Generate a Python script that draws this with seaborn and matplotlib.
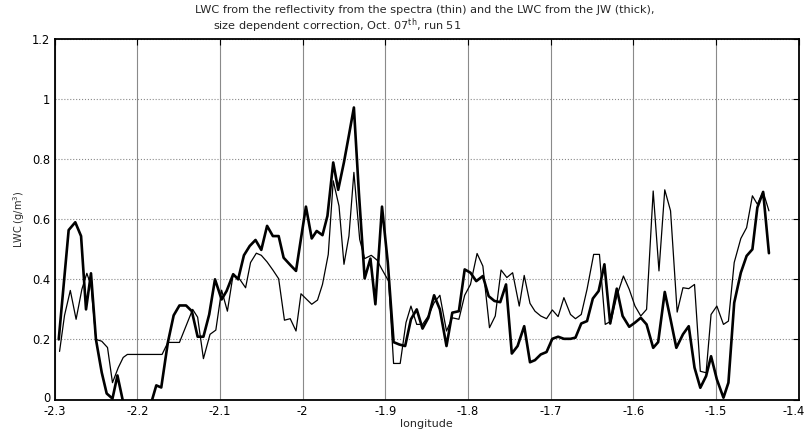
import numpy as np
import pandas as pd
import seaborn as sns
import matplotlib.pyplot as plt
import matplotlib.transforms as mtransforms

# LWC from the JW probe (thick line)
jw_lon = [-2.295, -2.283, -2.275, -2.268, -2.262, -2.256, -2.250, -2.243, -2.237, -2.230,
          -2.224, -2.217, -2.211, -2.204, -2.196, -2.190, -2.183, -2.177, -2.171, -2.163,
          -2.156, -2.149, -2.141, -2.134, -2.127, -2.120, -2.113, -2.106, -2.098, -2.092,
          -2.084, -2.078, -2.071, -2.064, -2.057, -2.050, -2.043, -2.036, -2.029, -2.023,
          -2.015, -2.008, -2.002, -1.996, -1.989, -1.983, -1.976, -1.970, -1.963, -1.957,
          -1.950, -1.944, -1.938, -1.932, -1.925, -1.918, -1.912, -1.904, -1.897, -1.890,
          -1.883, -1.876, -1.869, -1.862, -1.855, -1.848, -1.841, -1.834, -1.826, -1.819,
          -1.811, -1.804, -1.797, -1.790, -1.782, -1.775, -1.768, -1.761, -1.754, -1.747,
          -1.740, -1.732, -1.725, -1.719, -1.712, -1.705, -1.698, -1.691, -1.684, -1.676,
          -1.670, -1.663, -1.656, -1.649, -1.642, -1.635, -1.628, -1.620, -1.613, -1.605,
          -1.598, -1.591, -1.584, -1.576, -1.570, -1.562, -1.555, -1.548, -1.540, -1.533,
          -1.526, -1.519, -1.512, -1.506, -1.499, -1.491, -1.485, -1.478, -1.470, -1.463,
          -1.456, -1.450, -1.443, -1.436]
jw_lwc = [0.2, 0.564, 0.59, 0.544, 0.30, 0.42, 0.2, 0.09, 0.02, 0.003,
          0.08, -0.01, -0.05, -0.05, -0.05, -0.05, -0.01, 0.047, 0.04, 0.19,
          0.28, 0.313, 0.313, 0.294, 0.209, 0.209, 0.283, 0.4, 0.333, 0.361,
          0.417, 0.4, 0.48, 0.511, 0.531, 0.498, 0.578, 0.544, 0.544, 0.472,
          0.448, 0.428, 0.536, 0.642, 0.536, 0.561, 0.547, 0.611, 0.789, 0.698,
          0.79, 0.88, 0.972, 0.69, 0.403, 0.469, 0.317, 0.642, 0.456, 0.191,
          0.183, 0.178, 0.267, 0.3, 0.236, 0.272, 0.347, 0.30, 0.178, 0.289,
          0.294, 0.433, 0.422, 0.394, 0.411, 0.344, 0.328, 0.324, 0.383, 0.153,
          0.178, 0.244, 0.124, 0.131, 0.15, 0.158, 0.202, 0.209, 0.202, 0.202,
          0.206, 0.253, 0.261, 0.336, 0.361, 0.45, 0.253, 0.369, 0.278, 0.242,
          0.256, 0.272, 0.25, 0.172, 0.191, 0.358, 0.267, 0.172, 0.217, 0.244,
          0.106, 0.039, 0.078, 0.144, 0.067, 0.006, 0.056, 0.322, 0.422, 0.478,
          0.5, 0.639, 0.691, 0.487]

# LWC from the reflectivity of the spectra (thin line)
spec_lon = [-2.294, -2.288, -2.281, -2.274, -2.267, -2.261, -2.256, -2.250, -2.243, -2.236,
            -2.230, -2.223, -2.217, -2.212, -2.170, -2.163, -2.149, -2.133, -2.127, -2.120,
            -2.112, -2.105, -2.098, -2.091, -2.084, -2.076, -2.069, -2.063, -2.056, -2.050,
            -2.043, -2.036, -2.029, -2.022, -2.015, -2.008, -2.002, -1.995, -1.989, -1.982,
            -1.976, -1.969, -1.963, -1.956, -1.950, -1.944, -1.938, -1.931, -1.925, -1.917,
            -1.910, -1.904, -1.896, -1.890, -1.882, -1.875, -1.869, -1.862, -1.855, -1.848,
            -1.841, -1.834, -1.826, -1.819, -1.811, -1.804, -1.797, -1.789, -1.782, -1.774,
            -1.767, -1.760, -1.753, -1.746, -1.738, -1.732, -1.725, -1.719, -1.712, -1.705,
            -1.698, -1.691, -1.684, -1.676, -1.670, -1.663, -1.656, -1.648, -1.641, -1.634,
            -1.627, -1.620, -1.612, -1.605, -1.598, -1.591, -1.584, -1.576, -1.569, -1.562,
            -1.555, -1.547, -1.540, -1.533, -1.526, -1.519, -1.512, -1.506, -1.499, -1.491,
            -1.485, -1.478, -1.470, -1.463, -1.456, -1.450, -1.443, -1.436]
spec_lwc = [0.16, 0.28, 0.363, 0.267, 0.367, 0.42, 0.38, 0.2, 0.194, 0.173,
            0.056, 0.106, 0.14, 0.15, 0.15, 0.19, 0.19, 0.3, 0.274, 0.136,
            0.217, 0.231, 0.364, 0.294, 0.417, 0.4, 0.372, 0.456, 0.487, 0.48,
            0.458, 0.431, 0.402, 0.264, 0.269, 0.228, 0.352, 0.333, 0.317, 0.331,
            0.383, 0.483, 0.728, 0.644, 0.45, 0.544, 0.756, 0.533, 0.469, 0.48,
            0.464, 0.433, 0.394, 0.12, 0.12, 0.256, 0.311, 0.25, 0.25, 0.278,
            0.322, 0.347, 0.228, 0.272, 0.267, 0.347, 0.383, 0.486, 0.444, 0.239,
            0.278, 0.431, 0.406, 0.422, 0.311, 0.413, 0.32, 0.294, 0.278, 0.269,
            0.298, 0.276, 0.339, 0.283, 0.269, 0.283, 0.367, 0.483, 0.483, 0.25,
            0.261, 0.344, 0.411, 0.367, 0.311, 0.278, 0.3, 0.694, 0.428, 0.698,
            0.628, 0.291, 0.372, 0.369, 0.383, 0.094, 0.089, 0.283, 0.311, 0.25,
            0.261, 0.456, 0.536, 0.572, 0.678, 0.65, 0.691, 0.628]

x_ticks = [-2.3, -2.2, -2.1, -2.0, -1.9, -1.8, -1.7, -1.6, -1.5, -1.4]
x_tick_labels = ["-2.3", "-2.2", "-2.1", "-2", "-1.9", "-1.8", "-1.7", "-1.6", "-1.5", "-1.4"]
y_ticks = [0, 0.2, 0.4, 0.6, 0.8, 1.0, 1.2]
y_tick_labels = ["0", "0.2", "0.4", "0.6", "0.8", "1", "1.2"]

title_line1 = "LWC from the reflectivity from the spectra (thin) and the LWC from the JW (thick),"
title_line2 = "size dependent correction, Oct. 07$^{\\mathrm{th}}$, run 51"

sns.set_style("white")
plt.rcParams["font.family"] = ["DejaVu Sans"]
plt.rcParams["mathtext.fontset"] = "dejavusans"

fig = plt.figure(figsize=(8.07, 4.29), dpi=100)
ax = fig.add_axes([54.6 / 807, 1 - 399.5 / 429, (798.7 - 54.6) / 807, (399.5 - 39.0) / 429])

jw = pd.DataFrame({"lon": jw_lon, "lwc": jw_lwc})
spec = pd.DataFrame({"lon": spec_lon, "lwc": spec_lwc})

sns.lineplot(data=jw, x="lon", y="lwc", ax=ax, color="black", linewidth=1.9,
             sort=False, estimator=None)
sns.lineplot(data=spec, x="lon", y="lwc", ax=ax, color="black", linewidth=0.9,
             sort=False, estimator=None)

ax.set_xlim(-2.3, -1.4)
ax.set_ylim(0, 1.2)
ax.set_xticks(x_ticks)
ax.set_xticklabels(x_tick_labels)
ax.set_yticks(y_ticks)
ax.set_yticklabels(y_tick_labels)

ax.xaxis.grid(True, color="#8a8a8a", linestyle="-", linewidth=0.8)
ax.yaxis.grid(True, color="#8a8a8a", linestyle=":", linewidth=0.8)
ax.set_axisbelow(True)

ax.tick_params(direction="in", length=4, width=0.8, top=True, right=True,
               labelsize=8.3, colors="black")
ax.tick_params(axis="x", pad=4)
ax.tick_params(axis="y", pad=3)
for s in ax.spines.values():
    s.set_color("black")
    s.set_linewidth(1.3)

# last x label sits right at the figure edge, nudge it in a little
last = ax.get_xticklabels()[-1]
last.set_transform(last.get_transform() + mtransforms.ScaledTranslation(-5 / 100, 0, fig.dpi_scale_trans))
# the "0" on y sits right above "-2.3", lift it a touch so they don't collide
zero = ax.get_yticklabels()[0]
zero.set_transform(zero.get_transform() + mtransforms.ScaledTranslation(0, 3 / 100, fig.dpi_scale_trans))

ax.set_xlabel("longitude", fontsize=8, labelpad=1)
ax.set_ylabel("LWC (g/m$^3$)", fontsize=7, labelpad=4)

fig.text(425 / 807, 1 - 10 / 429, title_line1, ha="center", va="center", fontsize=8.1)
fig.text(213 / 807, 1 - 26 / 429, title_line2, ha="left", va="center", fontsize=8.1)

fig.savefig("out.png", dpi=100)
